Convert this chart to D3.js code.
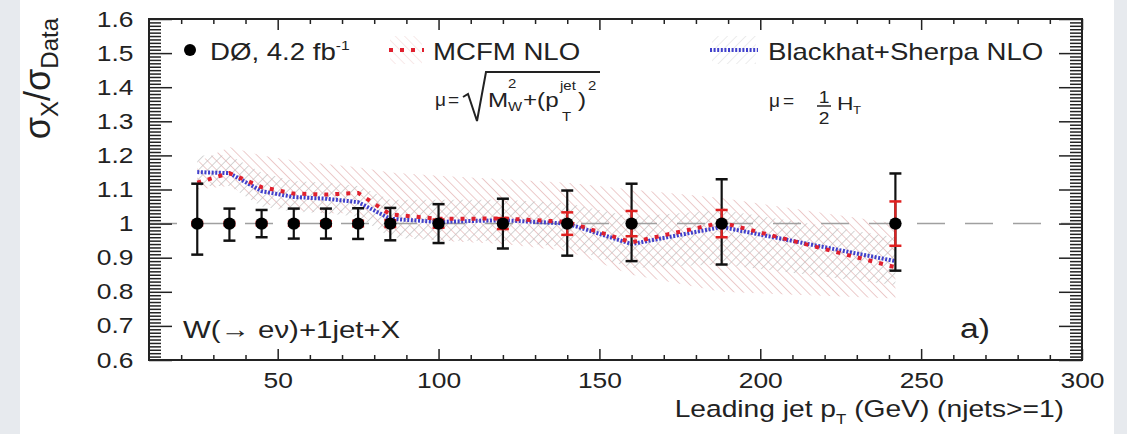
<!DOCTYPE html>
<html>
<head>
<meta charset="utf-8">
<script src="https://cdn.jsdelivr.net/npm/d3@7"></script>
<style>
  body { margin: 0; background: #fff; }
  svg { display: block; }
  text { font-family: "Liberation Sans", Arial, Helvetica, sans-serif; fill: #222; }
</style>
</head>
<body>
<svg id="chart" width="1127" height="434"></svg>
<script>
// Leading-jet pT bin centres (GeV)
const ptBins = [25, 35, 45, 55, 65, 75, 85, 100, 120, 140, 160, 188, 242];
// Data / data ratio and its uncertainties
const dataRatio = [1, 1, 1, 1, 1, 1, 1, 1, 1, 1, 1, 1, 1];
const totErrUp  = [0.117, 0.044, 0.040, 0.044, 0.044, 0.045, 0.046, 0.057, 0.073, 0.097, 0.117, 0.130, 0.147];
const totErrDn  = [0.091, 0.050, 0.040, 0.044, 0.044, 0.045, 0.049, 0.057, 0.073, 0.094, 0.110, 0.120, 0.138];
const statErr   = [0.005, 0.005, 0.005, 0.006, 0.007, 0.008, 0.010, 0.012, 0.016, 0.033, 0.037, 0.040, 0.065];
// Theory / data ratios
const mcfmRatio = [1.120, 1.148, 1.107, 1.088, 1.085, 1.090, 1.027, 1.014, 1.015, 1.005, 0.945, 1.003, 0.872];
const bhRatio   = [1.151, 1.148, 1.095, 1.078, 1.073, 1.063, 1.014, 1.005, 1.010, 1.000, 0.940, 0.990, 0.890];
// Scale-uncertainty bands
const mcfmUp = [1.180, 1.225, 1.200, 1.185, 1.175, 1.165, 1.150, 1.140, 1.130, 1.120, 1.100, 1.075, 1.000];
const mcfmDn = [1.100, 1.110, 1.060, 1.040, 1.030, 1.030, 0.970, 0.950, 0.940, 0.920, 0.850, 0.800, 0.780];
const bhUp   = [1.200, 1.200, 1.150, 1.125, 1.120, 1.110, 1.070, 1.070, 1.070, 1.060, 1.020, 1.040, 0.960];
const bhDn   = [1.110, 1.110, 1.050, 1.035, 1.030, 1.020, 0.960, 0.950, 0.950, 0.930, 0.870, 0.880, 0.820];
// Axis ticks
const xMajor = [50, 100, 150, 200, 250, 300];
const yMajor = [0.6, 0.7, 0.8, 0.9, 1.0, 1.1, 1.2, 1.3, 1.4, 1.5, 1.6];

const svg = d3.select("#chart");
const X0 = 149, X1 = 1082, Y0 = 19, Y1 = 360;
const SX = 1.2; // horizontal text stretch

const x = d3.scaleLinear().domain([10, 300]).range([X0, X1]);
const y = d3.scaleLinear().domain([0.6, 1.6]).range([Y1, Y0]);

// page edges
svg.append("rect").attr("x", 0).attr("y", 0).attr("width", 1127).attr("height", 434).attr("fill", "#fff");
svg.append("rect").attr("x", 0).attr("y", 0).attr("width", 20).attr("height", 434).attr("fill", "#e7eaee");
svg.append("rect").attr("x", 1114).attr("y", 0).attr("width", 13).attr("height", 434).attr("fill", "#e7eaee");

// hatch patterns
const defs = svg.append("defs");
function hatch(id, angle, color, w) {
  const p = defs.append("pattern").attr("id", id)
    .attr("patternUnits", "userSpaceOnUse").attr("width", 6.5).attr("height", 6.5)
    .attr("patternTransform", `rotate(${angle})`);
  p.append("line").attr("x1", 0).attr("y1", 0).attr("x2", 0).attr("y2", 6.5)
    .attr("stroke", color).attr("stroke-width", w);
}
hatch("hatchMC", -45, "#e2b0b0", 1.3);
hatch("hatchBH", 45, "#bdbdbd", 1.3);
hatch("hatchMCLeg", -45, "#f0d4d4", 1);
hatch("hatchBHLeg", 45, "#dadada", 1);

defs.append("clipPath").attr("id", "plotClip")
  .append("rect").attr("x", X0).attr("y", Y0).attr("width", X1 - X0).attr("height", Y1 - Y0);

const plot = svg.append("g").attr("clip-path", "url(#plotClip)");

// uncertainty bands
const bandMC = d3.area().x((d, i) => x(ptBins[i])).y0((d, i) => y(mcfmDn[i])).y1(d => y(d));
const bandBH = d3.area().x((d, i) => x(ptBins[i])).y0((d, i) => y(bhDn[i])).y1(d => y(d));
plot.append("path").attr("d", bandMC(mcfmUp)).attr("fill", "url(#hatchMC)");
plot.append("path").attr("d", bandBH(bhUp)).attr("fill", "url(#hatchBH)");

// reference line at unity
plot.append("line").attr("x1", X0).attr("x2", X1).attr("y1", y(1)).attr("y2", y(1))
  .attr("stroke", "#a0a0a0").attr("stroke-width", 1.5).attr("stroke-dasharray", "28,20");

// theory curves
const line = d3.line().x((d, i) => x(ptBins[i])).y(d => y(d));
plot.append("path").attr("d", line(bhRatio)).attr("fill", "none")
  .attr("stroke", "#4040cc").attr("stroke-width", 4).attr("stroke-dasharray", "2,1.6");
plot.append("path").attr("d", line(mcfmRatio)).attr("fill", "none")
  .attr("stroke", "#e0202e").attr("stroke-width", 4).attr("stroke-dasharray", "4,7");

// axes
function styleAxis(g) {
  g.select(".domain").remove();
  g.selectAll(".tick line").attr("stroke", "#222").attr("stroke-width", 1.5);
  g.selectAll(".tick text").style("font-size", "22px").style("fill", "#222")
    .attr("transform", `scale(${SX},1)`);
}
const xMinor = d3.range(20, 300, 10).filter(v => v % 50 !== 0);
const yMinor = d3.range(61, 160).filter(v => v % 10 !== 0).map(v => v / 100);

svg.append("g").attr("transform", `translate(0,${Y1})`)
  .call(d3.axisBottom(x).tickValues(xMajor).tickSizeInner(-11).tickSizeOuter(0).tickPadding(12).tickFormat(d3.format("d")))
  .call(styleAxis);
svg.append("g").attr("transform", `translate(0,${Y1})`)
  .call(d3.axisBottom(x).tickValues(xMinor).tickSizeInner(-5).tickSizeOuter(0).tickFormat(""))
  .call(styleAxis);
svg.append("g").attr("transform", `translate(0,${Y0})`)
  .call(d3.axisTop(x).tickValues(xMajor).tickSizeInner(-11).tickSizeOuter(0).tickFormat(""))
  .call(styleAxis);
svg.append("g").attr("transform", `translate(0,${Y0})`)
  .call(d3.axisTop(x).tickValues(xMinor).tickSizeInner(-5).tickSizeOuter(0).tickFormat(""))
  .call(styleAxis);

const yFmt = d => (Math.abs(d - 1) < 1e-9 ? "1" : d3.format(".1f")(d));
svg.append("g").attr("transform", `translate(${X0},0)`)
  .call(d3.axisLeft(y).tickValues(yMajor).tickSizeInner(-23).tickSizeOuter(0).tickPadding(13).tickFormat(yFmt))
  .call(styleAxis);
svg.append("g").attr("transform", `translate(${X0},0)`)
  .call(d3.axisLeft(y).tickValues(yMinor).tickSizeInner(-12).tickSizeOuter(0).tickFormat(""))
  .call(styleAxis);
svg.append("g").attr("transform", `translate(${X1},0)`)
  .call(d3.axisRight(y).tickValues(yMajor).tickSizeInner(-23).tickSizeOuter(0).tickFormat(""))
  .call(styleAxis);
svg.append("g").attr("transform", `translate(${X1},0)`)
  .call(d3.axisRight(y).tickValues(yMinor).tickSizeInner(-12).tickSizeOuter(0).tickFormat(""))
  .call(styleAxis);

// frame
svg.append("rect").attr("x", X0).attr("y", Y0).attr("width", X1 - X0).attr("height", Y1 - Y0)
  .attr("fill", "none").attr("stroke", "#222").attr("stroke-width", 2);

// data points with total and statistical error bars
const pts = svg.append("g");
const capW = 6;
ptBins.forEach((pt, i) => {
  const cx = x(pt), v = dataRatio[i];
  const yt = y(v + totErrUp[i]), yb = y(v - totErrDn[i]);
  pts.append("line").attr("x1", cx).attr("x2", cx).attr("y1", yt).attr("y2", yb)
    .attr("stroke", "#111").attr("stroke-width", 2.2);
  [yt, yb].forEach(yy => pts.append("line").attr("x1", cx - capW).attr("x2", cx + capW)
    .attr("y1", yy).attr("y2", yy).attr("stroke", "#111").attr("stroke-width", 2.5));
  const st = y(v + statErr[i]), sb = y(v - statErr[i]);
  pts.append("line").attr("x1", cx).attr("x2", cx).attr("y1", st).attr("y2", sb)
    .attr("stroke", "#e02020").attr("stroke-width", 2.2);
  [st, sb].forEach(yy => pts.append("line").attr("x1", cx - capW).attr("x2", cx + capW)
    .attr("y1", yy).attr("y2", yy).attr("stroke", "#e02020").attr("stroke-width", 2.5));
});
pts.selectAll("circle").data(ptBins).join("circle")
  .attr("cx", d => x(d)).attr("cy", (d, i) => y(dataRatio[i])).attr("r", 6.2).attr("fill", "#000");

// helper for stretched text
function label(px, py, size, anchor, sx) {
  return svg.append("text").attr("transform", `translate(${px},${py}) scale(${sx || SX},1)`)
    .attr("text-anchor", anchor || "start").style("font-size", size + "px");
}

// y-axis title
const yt = svg.append("text").attr("transform", "translate(50,18) rotate(-90)")
  .attr("text-anchor", "end").style("font-size", "36px");
yt.append("tspan").text("σ");
yt.append("tspan").attr("dy", 8).style("font-size", "24px").text("X");
yt.append("tspan").attr("dy", -8).text("/σ");
yt.append("tspan").attr("dy", 8).style("font-size", "24px").text("Data");

// x-axis title
const xt = label(1064, 417, 23.5, "end");
xt.append("tspan").text("Leading jet p");
xt.append("tspan").attr("dy", 7).style("font-size", "14px").text("T");
xt.append("tspan").attr("dy", -7).text(" (GeV) (njets>=1)");

// legend
svg.append("circle").attr("cx", 190).attr("cy", 50).attr("r", 6).attr("fill", "#000");
const l1 = label(210, 60, 23);
l1.append("tspan").text("DØ, 4.2 fb");
l1.append("tspan").attr("dy", -10).style("font-size", "13px").text("-1");

svg.append("rect").attr("x", 390).attr("y", 36).attr("width", 32).attr("height", 28).attr("fill", "url(#hatchMCLeg)");
svg.append("line").attr("x1", 389).attr("x2", 424).attr("y1", 50).attr("y2", 50)
  .attr("stroke", "#e0202e").attr("stroke-width", 4).attr("stroke-dasharray", "4,7");
label(433, 60, 23).text("MCFM NLO");

svg.append("rect").attr("x", 712).attr("y", 36).attr("width", 44).attr("height", 28).attr("fill", "url(#hatchBHLeg)");
svg.append("line").attr("x1", 710).attr("x2", 758).attr("y1", 50).attr("y2", 50)
  .attr("stroke", "#4040cc").attr("stroke-width", 4).attr("stroke-dasharray", "2,1.6");
label(768, 60, 23).text("Blackhat+Sherpa NLO");

// scale choice, MCFM
label(435, 106, 19, "start", 1).text("μ");
label(448, 106, 19, "start", 1).text("=");
svg.append("path").attr("d", "M463,97 L468,94 L477,121 L486,72 L600,72")
  .attr("fill", "none").attr("stroke", "#222").attr("stroke-width", 2);
label(488, 107, 21, "start", 1.15).text("M");
label(508, 88, 13, "start", 1.15).text("2");
label(508, 111, 13, "start", 1.15).text("W");
label(523, 107, 21, "start", 1.15).text("+(p");
label(560, 90, 13, "start", 1.15).text("jet");
label(562, 121, 13, "start", 1.15).text("T");
label(578, 107, 21, "start", 1.15).text(")");
label(588, 90, 13, "start", 1.15).text("2");

// scale choice, Blackhat
label(769, 107, 19, "start", 1).text("μ");
label(783, 107, 19, "start", 1).text("=");
label(824, 103, 16, "middle").text("1");
svg.append("line").attr("x1", 817).attr("x2", 831).attr("y1", 106).attr("y2", 106)
  .attr("stroke", "#222").attr("stroke-width", 1.5);
label(824, 124, 16, "middle").text("2");
label(837, 110, 19).text("H");
label(853, 114, 11).text("T");

// channel and panel labels
label(183, 338, 24.5).text("W(→ eν)+1jet+X");
label(960, 338, 28).text("a)");
</script>
</body>
</html>
